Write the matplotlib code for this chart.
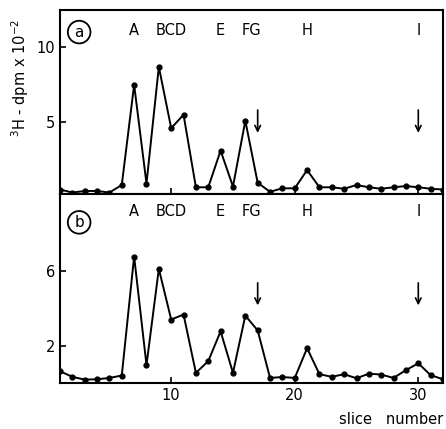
import matplotlib
matplotlib.use('Agg')
import matplotlib.pyplot as plt
import numpy as np

plt.rcParams['font.family'] = ['DejaVu Sans']

# slice numbers
slices = list(range(1, 33))

# panel a: 3H dpm x 10^-2
dpm_a = [0.5, 0.3, 0.4, 0.4, 0.3, 0.8, 7.5, 0.9, 8.7, 4.6, 5.5, 0.65, 0.65, 3.1, 0.7, 5.1,
         0.95, 0.35, 0.58, 0.58, 1.8, 0.65, 0.65, 0.55, 0.8, 0.65, 0.55, 0.65, 0.73, 0.65, 0.55, 0.5]
# panel b
dpm_b = [0.63, 0.33, 0.18, 0.2, 0.27, 0.4, 6.76, 0.96, 6.1, 3.39, 3.66, 0.54, 1.17, 2.76, 0.54, 3.6,
         2.81, 0.27, 0.32, 0.27, 1.86, 0.47, 0.33, 0.47, 0.25, 0.5, 0.45, 0.27, 0.69, 1.05, 0.42, 0.2]

# band labels and their slice positions
band_names = ['A', 'BCD', 'E', 'FG', 'H', 'I']
band_pos = [7, 10, 14, 16.5, 21, 30]
arrow_pos = [17, 30]

fig = plt.figure(figsize=(4.46, 4.29), dpi=100)
ax_a = fig.add_axes([60/446, 1 - 194/429, 383/446, 184/429])
ax_b = fig.add_axes([60/446, 1 - 383/429, 383/446, 189/429])

panels = [(ax_a, dpm_a, (0.2, 12.5), [5, 10], 'a', (6.0, 4.1), 0.89, 0.88),
          (ax_b, dpm_b, (0, 10.1), [2, 6], 'b', (5.5, 4.0), 0.91, 0.85)]

for ax, vals, ylim, yt, tag, (ytop, ybot), ylet, ytag in panels:
    ax.plot(slices, vals, '-o', color='black', lw=1.4, ms=3.5)
    ax.set_xlim(1, 32)
    ax.set_ylim(*ylim)
    ax.set_yticks(yt)
    ax.set_xticks([10, 20, 30])
    ax.tick_params(direction='in', length=4, width=1.2, labelsize=10.5)
    for s in ax.spines.values():
        s.set_linewidth(1.5)
    for name, p in zip(band_names, band_pos):
        ax.text(p, ylet, name, transform=ax.get_xaxis_transform(),
                ha='center', va='center', fontsize=10.5)
    ax.text(0.05, ytag, tag, transform=ax.transAxes, ha='center', va='center',
            fontsize=11, bbox=dict(boxstyle='circle,pad=0.25', fc='white', ec='black', lw=1.3))
    for p in arrow_pos:
        ax.annotate('', xy=(p, ybot), xytext=(p, ytop),
                    arrowprops=dict(arrowstyle='->', color='black', lw=1.2))

ax_a.tick_params(labelbottom=False)

fig.text(20/446, 1 - 78/429, r'$^3$H - dpm x 10$^{-2}$', rotation=90,
         ha='center', va='center', fontsize=10.5)
fig.text(443/446, 1 - 420/429, 'slice   number', ha='right', va='center', fontsize=10.5)

fig.savefig('out.png', dpi=100)
